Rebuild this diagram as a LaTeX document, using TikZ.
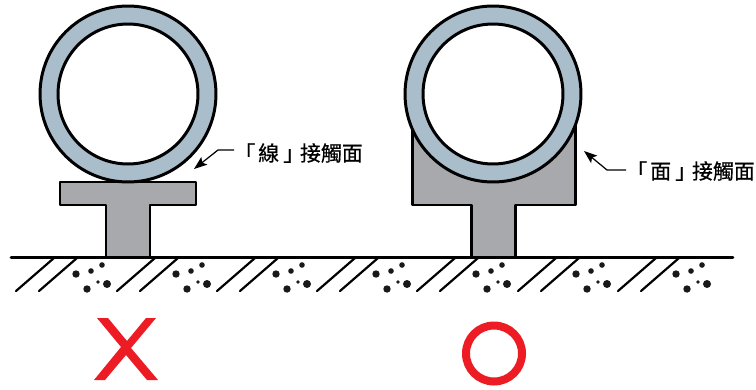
\documentclass[tikz,border=0pt]{standalone}
\usepackage{fontspec}
\newfontfamily\cjk[FakeBold=0.5]{Noto Sans CJK TC}
\usetikzlibrary{arrows.meta}
\definecolor{pipeblue}{HTML}{A9BDCB}
\definecolor{basegray}{HTML}{A7A9AC}
\definecolor{markred}{HTML}{ED1C24}
\tikzset{
	pipeouter/.style = {circle, draw = black, line width = 1.7pt, fill = pipeblue, minimum size = 3.52cm, inner sep = 0pt},
	pipeinner/.style = {circle, draw = black, line width = 1.7pt, fill = white, minimum size = 2.80cm, inner sep = 0pt},
	support/.style = {draw = black, line width = 1.7pt, fill = basegray, line join = round},
	ground/.style = {draw = black, line width = 1.6pt, line cap = round},
	hatching/.style = {draw = black, line width = 1.25pt, line cap = round},
	leader/.style = {draw = black, line width = 0.7pt, -{Stealth[length = 7.5pt, width = 5.5pt, inset = 1.6pt]}},
	contact/.style = {anchor = west, inner sep = 0pt, font = \cjk\fontsize{11.9pt}{14pt}\selectfont},
	grit/.style = {fill = black!90}
}
\begin{document}
\begin{tikzpicture}[x=0.02cm,y=-0.02cm]
	\useasboundingbox (0,0) rectangle (756,389);

	\draw[support] (106,257) -- (106,205) -- (60,205) -- (60,182) -- (196,182) -- (196,205) -- (150,205) -- (150,257);
	\draw[support] (471,257) -- (471,205) -- (412,205) -- (412,120) -- (575,120) -- (575,205) -- (515,205) -- (515,257);

	\node (P1) at (128,94)	[pipeouter]	{};
	\node (H1) at (128,94)	[pipeinner]	{};
	\node (P2) at (493,94)	[pipeouter]	{};
	\node (H2) at (493,94)	[pipeinner]	{};

	\draw[ground] (11,257.5) -- (733,257.5);
	\foreach \x in {54,155,255,355,455,556,656} {
		\draw[hatching] (\x,258) -- ++(-38,33);
		\draw[hatching] (\x+23,258) -- ++(-38,33);
	}
	\foreach \x in {0,100,...,600} {
		\fill[grit] (\x+76,274) circle (3.7);
		\fill[grit] (\x+91,271) circle (2.8);
		\fill[grit] (\x+102,265) circle (2.8);
		\fill[grit] (\x+98,282) circle (1.8);
		\fill[grit] (\x+107,284) circle (4);
		\fill[grit] (\x+87,289) circle (3.7);
	}

	\node (L1) at (234,153)	[contact]	{「\kern1.7pt 線\kern2.3pt 」\kern-2.3pt 接觸面};
	\node (L2) at (626,171)	[contact]	{「\kern1.7pt 面\kern2.3pt 」\kern-2.3pt 接觸面};
	\coordinate (E1) at (218,150);
	\coordinate (T1) at (194,169);
	\coordinate (E2) at (607,170);
	\coordinate (T2) at (584,151);
	\draw[leader] (L1.west |- E1) -- (E1) -- (T1);
	\draw[leader] (L2.west |- E2) -- (E2) -- (T2);

	\fill[markred] (97,318) -- (108,318) -- (127,341) -- (146,318) -- (156,318) -- (131,348) -- (158,380) -- (147,380) -- (126,355) -- (105,380) -- (94,380) -- (121,347) -- cycle;
	\draw[markred, line width = 0.16cm] (494,353.5) circle (28);
\end{tikzpicture}
\end{document}
